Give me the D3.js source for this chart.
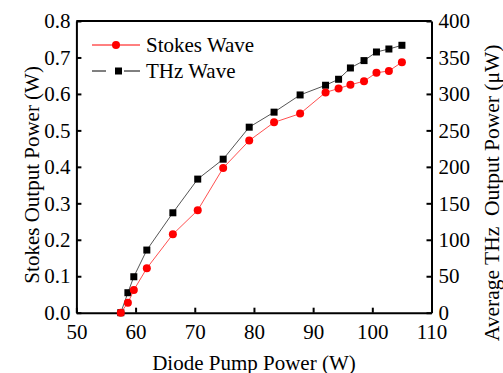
<!DOCTYPE html>
<html>
<head>
<meta charset="utf-8">
<script src="https://cdn.jsdelivr.net/npm/d3@7"></script>
<style>
	body { margin: 0; background: #fff; }
	text { font-family: "Liberation Serif", "Times New Roman", serif; fill: #000; }
</style>
</head>
<body>
<svg></svg>
<script>
// pump power (W)
const pumpPower = [57.5, 58.7, 59.7, 61.9, 66.3, 70.5, 74.8, 79.2, 83.4, 87.8, 92.1, 94.3, 96.3, 98.6, 100.7, 102.8, 105.0];
// Stokes output (W)
const stokesPower = [0, 0.027, 0.062, 0.122, 0.215, 0.281, 0.397, 0.472, 0.522, 0.546, 0.604, 0.615, 0.625, 0.635, 0.658, 0.663, 0.687];
// THz output (uW)
const thzPower = [0, 27.4, 49.3, 85.9, 137, 183.2, 210.5, 254.4, 275, 298.6, 311.9, 320.1, 335.6, 345.7, 357.5, 361.6, 366.7];

const xTicks = [50, 60, 70, 80, 90, 100, 110];
const yLeftTicks = [0, 0.1, 0.2, 0.3, 0.4, 0.5, 0.6, 0.7, 0.8];
const yRightTicks = [0, 50, 100, 150, 200, 250, 300, 350, 400];

const SVGsize = { w: 503, h: 373 };
const margins = { t: 21, r: 71.5, b: 60.3, l: 76.4 };
const size = {
	w: SVGsize.w - margins.l - margins.r,
	h: SVGsize.h - margins.t - margins.b,
};

const svg = d3.select("svg").attr("width", SVGsize.w).attr("height", SVGsize.h);
const containerG = svg
	.append("g")
	.attr("transform", `translate(${margins.l}, ${margins.t})`);

const scaleX = d3.scaleLinear().domain([50, 110]).range([0, size.w]);
const scaleYL = d3.scaleLinear().domain([0, 0.8]).range([size.h, 0]);
const scaleYR = d3.scaleLinear().domain([0, 400]).range([size.h, 0]);

// frame top line
containerG.append("line")
	.attr("x1", 0).attr("x2", size.w)
	.attr("y1", 0).attr("y2", 0)
	.attr("stroke", "#000").attr("stroke-width", 2);

function styleAxis(g) {
	g.select(".domain").attr("stroke", "#000").attr("stroke-width", 2);
	g.selectAll(".tick line").attr("stroke", "#000").attr("stroke-width", 2);
	g.selectAll(".tick text")
		.style("font-family", '"Liberation Serif", serif')
		.style("font-size", "21px")
		.attr("fill", "#000");
}

let axisX = d3.axisBottom(scaleX).tickValues(xTicks).tickSizeInner(-5).tickSizeOuter(0).tickPadding(11);
containerG.append("g")
	.attr("transform", `translate(0, ${size.h})`)
	.call(axisX)
	.call(styleAxis);

let axisYL = d3.axisLeft(scaleYL).tickValues(yLeftTicks).tickFormat(d3.format(".1f"))
	.tickSizeInner(-5).tickSizeOuter(0).tickPadding(6);
containerG.append("g").call(axisYL).call(styleAxis);

let axisYR = d3.axisRight(scaleYR).tickValues(yRightTicks)
	.tickSizeInner(-5).tickSizeOuter(0).tickPadding(7);
containerG.append("g")
	.attr("transform", `translate(${size.w}, 0)`)
	.call(axisYR)
	.call(styleAxis);

// axis titles
containerG.append("text")
	.attr("x", scaleX(80))
	.attr("y", size.h + 57)
	.attr("text-anchor", "middle")
	.style("font-size", "21px")
	.text("Diode Pump Power (W)");

containerG.append("text")
	.attr("transform", "rotate(-90)")
	.attr("x", -size.h / 2 - 8)
	.attr("y", -37)
	.attr("text-anchor", "middle")
	.style("font-size", "21px")
	.text("Stokes Output Power (W)");

containerG.append("text")
	.attr("transform", "rotate(-90)")
	.attr("x", -size.h / 2 - 26)
	.attr("y", size.w + 68)
	.attr("text-anchor", "middle")
	.style("font-size", "21.5px")
	.text("Average THz\u00a0\u00a0Output Power (\u03bcW)");

const stokesData = pumpPower.map((p, i) => ({ x: p, y: stokesPower[i] }));
const thzData = pumpPower.map((p, i) => ({ x: p, y: thzPower[i] }));

// THz line + squares
containerG.append("path")
	.datum(thzData)
	.attr("d", d3.line().x((d) => scaleX(d.x)).y((d) => scaleYR(d.y)))
	.attr("fill", "none")
	.attr("stroke", "#555")
	.attr("stroke-width", 1);

containerG.selectAll(".thz")
	.data(thzData)
	.join("rect")
	.attr("class", "thz")
	.attr("x", (d) => scaleX(d.x) - 3.5)
	.attr("y", (d) => scaleYR(d.y) - 3.5)
	.attr("width", 7)
	.attr("height", 7)
	.attr("fill", "#000");

// Stokes line + circles
containerG.append("path")
	.datum(stokesData)
	.attr("d", d3.line().x((d) => scaleX(d.x)).y((d) => scaleYL(d.y)))
	.attr("fill", "none")
	.attr("stroke", "#ff5050")
	.attr("stroke-width", 1);

containerG.selectAll(".stokes")
	.data(stokesData)
	.join("circle")
	.attr("class", "stokes")
	.attr("cx", (d) => scaleX(d.x))
	.attr("cy", (d) => scaleYL(d.y))
	.attr("r", 4)
	.attr("fill", "#ff0000");

// legend
const legendG = svg.append("g");
legendG.append("line")
	.attr("x1", 92).attr("x2", 140).attr("y1", 45).attr("y2", 45)
	.attr("stroke", "#ff0000").attr("stroke-width", 1);
legendG.append("circle")
	.attr("cx", 116).attr("cy", 45).attr("r", 4).attr("fill", "#ff0000");
legendG.append("text")
	.attr("x", 146).attr("y", 52)
	.style("font-size", "21px")
	.text("Stokes Wave");

legendG.append("line")
	.attr("x1", 92).attr("x2", 106).attr("y1", 71).attr("y2", 71)
	.attr("stroke", "#000").attr("stroke-width", 1);
legendG.append("line")
	.attr("x1", 124).attr("x2", 140).attr("y1", 71).attr("y2", 71)
	.attr("stroke", "#000").attr("stroke-width", 1);
legendG.append("rect")
	.attr("x", 115).attr("y", 67.5).attr("width", 7).attr("height", 7).attr("fill", "#000");
legendG.append("text")
	.attr("x", 146).attr("y", 78)
	.style("font-size", "21px")
	.text("THz Wave");
</script>
</body>
</html>
